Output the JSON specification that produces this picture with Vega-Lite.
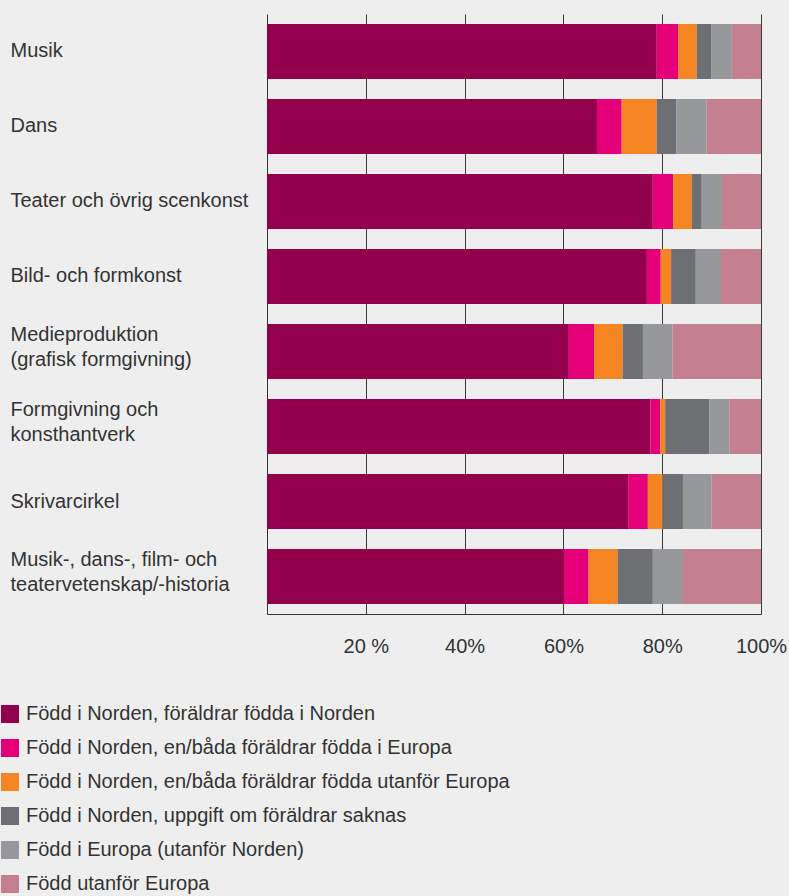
{
  "$schema": "https://vega.github.io/schema/vega-lite/v6.json",
  "autosize": {"type": "none"},
  "padding": {"left": 267, "top": 14, "right": 28, "bottom": 282},
  "width": 494,
  "height": 600,
  "background": "#eeeeee",
  "config": {
    "view": {"stroke": null},
    "font": "Liberation Sans",
    "text": {"font": "Liberation Sans"}
  },
  "data": {
    "values": [
      {"omrade": "Musik", "grupp": "Född i Norden, föräldrar födda i Norden", "nr": 1, "andel": 78.9},
      {"omrade": "Musik", "grupp": "Född i Norden, en/båda föräldrar födda i Europa", "nr": 2, "andel": 4.3},
      {"omrade": "Musik", "grupp": "Född i Norden, en/båda föräldrar födda utanför Europa", "nr": 3, "andel": 3.8},
      {"omrade": "Musik", "grupp": "Född i Norden, uppgift om föräldrar saknas", "nr": 4, "andel": 3.0},
      {"omrade": "Musik", "grupp": "Född i Europa (utanför Norden)", "nr": 5, "andel": 4.1},
      {"omrade": "Musik", "grupp": "Född utanför Europa", "nr": 6, "andel": 5.9},

      {"omrade": "Dans", "grupp": "Född i Norden, föräldrar födda i Norden", "nr": 1, "andel": 66.8},
      {"omrade": "Dans", "grupp": "Född i Norden, en/båda föräldrar födda i Europa", "nr": 2, "andel": 5.0},
      {"omrade": "Dans", "grupp": "Född i Norden, en/båda föräldrar födda utanför Europa", "nr": 3, "andel": 7.1},
      {"omrade": "Dans", "grupp": "Född i Norden, uppgift om föräldrar saknas", "nr": 4, "andel": 4.0},
      {"omrade": "Dans", "grupp": "Född i Europa (utanför Norden)", "nr": 5, "andel": 6.1},
      {"omrade": "Dans", "grupp": "Född utanför Europa", "nr": 6, "andel": 11.0},

      {"omrade": "Teater och övrig scenkonst", "grupp": "Född i Norden, föräldrar födda i Norden", "nr": 1, "andel": 78.1},
      {"omrade": "Teater och övrig scenkonst", "grupp": "Född i Norden, en/båda föräldrar födda i Europa", "nr": 2, "andel": 4.1},
      {"omrade": "Teater och övrig scenkonst", "grupp": "Född i Norden, en/båda föräldrar födda utanför Europa", "nr": 3, "andel": 3.8},
      {"omrade": "Teater och övrig scenkonst", "grupp": "Född i Norden, uppgift om föräldrar saknas", "nr": 4, "andel": 2.0},
      {"omrade": "Teater och övrig scenkonst", "grupp": "Född i Europa (utanför Norden)", "nr": 5, "andel": 4.1},
      {"omrade": "Teater och övrig scenkonst", "grupp": "Född utanför Europa", "nr": 6, "andel": 7.9},

      {"omrade": "Bild- och formkonst", "grupp": "Född i Norden, föräldrar födda i Norden", "nr": 1, "andel": 76.9},
      {"omrade": "Bild- och formkonst", "grupp": "Född i Norden, en/båda föräldrar födda i Europa", "nr": 2, "andel": 2.8},
      {"omrade": "Bild- och formkonst", "grupp": "Född i Norden, en/båda föräldrar födda utanför Europa", "nr": 3, "andel": 2.1},
      {"omrade": "Bild- och formkonst", "grupp": "Född i Norden, uppgift om föräldrar saknas", "nr": 4, "andel": 5.0},
      {"omrade": "Bild- och formkonst", "grupp": "Född i Europa (utanför Norden)", "nr": 5, "andel": 5.1},
      {"omrade": "Bild- och formkonst", "grupp": "Född utanför Europa", "nr": 6, "andel": 8.1},

      {"omrade": "Medieproduktion|(grafisk formgivning)", "grupp": "Född i Norden, föräldrar födda i Norden", "nr": 1, "andel": 61.1},
      {"omrade": "Medieproduktion|(grafisk formgivning)", "grupp": "Född i Norden, en/båda föräldrar födda i Europa", "nr": 2, "andel": 5.1},
      {"omrade": "Medieproduktion|(grafisk formgivning)", "grupp": "Född i Norden, en/båda föräldrar födda utanför Europa", "nr": 3, "andel": 5.8},
      {"omrade": "Medieproduktion|(grafisk formgivning)", "grupp": "Född i Norden, uppgift om föräldrar saknas", "nr": 4, "andel": 4.1},
      {"omrade": "Medieproduktion|(grafisk formgivning)", "grupp": "Född i Europa (utanför Norden)", "nr": 5, "andel": 6.0},
      {"omrade": "Medieproduktion|(grafisk formgivning)", "grupp": "Född utanför Europa", "nr": 6, "andel": 17.9},

      {"omrade": "Formgivning och|konsthantverk", "grupp": "Född i Norden, föräldrar födda i Norden", "nr": 1, "andel": 77.6},
      {"omrade": "Formgivning och|konsthantverk", "grupp": "Född i Norden, en/båda föräldrar födda i Europa", "nr": 2, "andel": 2.0},
      {"omrade": "Formgivning och|konsthantverk", "grupp": "Född i Norden, en/båda föräldrar födda utanför Europa", "nr": 3, "andel": 1.0},
      {"omrade": "Formgivning och|konsthantverk", "grupp": "Född i Norden, uppgift om föräldrar saknas", "nr": 4, "andel": 8.9},
      {"omrade": "Formgivning och|konsthantverk", "grupp": "Född i Europa (utanför Norden)", "nr": 5, "andel": 4.1},
      {"omrade": "Formgivning och|konsthantverk", "grupp": "Född utanför Europa", "nr": 6, "andel": 6.4},

      {"omrade": "Skrivarcirkel", "grupp": "Född i Norden, föräldrar födda i Norden", "nr": 1, "andel": 73.1},
      {"omrade": "Skrivarcirkel", "grupp": "Född i Norden, en/båda föräldrar födda i Europa", "nr": 2, "andel": 4.0},
      {"omrade": "Skrivarcirkel", "grupp": "Född i Norden, en/båda föräldrar födda utanför Europa", "nr": 3, "andel": 3.0},
      {"omrade": "Skrivarcirkel", "grupp": "Född i Norden, uppgift om föräldrar saknas", "nr": 4, "andel": 4.1},
      {"omrade": "Skrivarcirkel", "grupp": "Född i Europa (utanför Norden)", "nr": 5, "andel": 5.8},
      {"omrade": "Skrivarcirkel", "grupp": "Född utanför Europa", "nr": 6, "andel": 10.0},

      {"omrade": "Musik-, dans-, film- och|teatervetenskap/-historia", "grupp": "Född i Norden, föräldrar födda i Norden", "nr": 1, "andel": 60.1},
      {"omrade": "Musik-, dans-, film- och|teatervetenskap/-historia", "grupp": "Född i Norden, en/båda föräldrar födda i Europa", "nr": 2, "andel": 5.0},
      {"omrade": "Musik-, dans-, film- och|teatervetenskap/-historia", "grupp": "Född i Norden, en/båda föräldrar födda utanför Europa", "nr": 3, "andel": 5.9},
      {"omrade": "Musik-, dans-, film- och|teatervetenskap/-historia", "grupp": "Född i Norden, uppgift om föräldrar saknas", "nr": 4, "andel": 7.1},
      {"omrade": "Musik-, dans-, film- och|teatervetenskap/-historia", "grupp": "Född i Europa (utanför Norden)", "nr": 5, "andel": 6.1},
      {"omrade": "Musik-, dans-, film- och|teatervetenskap/-historia", "grupp": "Född utanför Europa", "nr": 6, "andel": 15.8}
    ]
  },
  "mark": {"type": "bar"},
  "encoding": {
    "y": {
      "field": "omrade",
      "type": "nominal",
      "sort": null,
      "scale": {"paddingInner": 0.2667, "paddingOuter": 0.1333},
      "axis": {
        "title": null,
        "ticks": false,
        "tickSize": 0,
        "grid": false,
        "domain": true,
        "domainColor": "#333333",
        "domainWidth": 1,
        "labelAlign": "left",
        "labelBaseline": "middle",
        "labelPadding": 257,
        "labelFontSize": 20,
        "labelColor": "#333333",
        "labelLineHeight": 25,
        "labelLimit": 300,
        "labelOffset": {"condition": {"test": "indexof(datum.value, '|') >= 0", "value": -17}, "value": 0},
        "labelExpr": "split(datum.label, '|')"
      }
    },
    "x": {
      "field": "andel",
      "type": "quantitative",
      "stack": "zero",
      "scale": {"domain": [0, 100], "nice": false},
      "axis": {
        "title": null,
        "values": [20, 40, 60, 80, 100],
        "ticks": false,
        "tickSize": 0,
        "grid": true,
        "gridColor": "#3a3a3a",
        "gridWidth": 1,
        "gridOpacity": 1,
        "domain": true,
        "domainColor": "#333333",
        "domainWidth": 1,
        "labelPadding": 22,
        "labelFontSize": 20,
        "labelColor": "#333333",
        "labelAlign": "center",
        "labelExpr": "datum.value == 20 ? '20 %' : datum.value + '%'"
      }
    },
    "order": {"field": "nr", "type": "quantitative", "sort": "ascending"},
    "color": {
      "field": "grupp",
      "type": "nominal",
      "sort": null,
      "scale": {
        "domain": [
          "Född i Norden, föräldrar födda i Norden",
          "Född i Norden, en/båda föräldrar födda i Europa",
          "Född i Norden, en/båda föräldrar födda utanför Europa",
          "Född i Norden, uppgift om föräldrar saknas",
          "Född i Europa (utanför Norden)",
          "Född utanför Europa"
        ],
        "range": ["#93004c", "#e5007a", "#f58423", "#6e6f73", "#97989c", "#c47f91"]
      },
      "legend": {
        "title": null,
        "orient": "none",
        "legendX": -267,
        "legendY": 690,
        "direction": "vertical",
        "padding": 0,
        "symbolType": "square",
        "symbolSize": 324,
        "symbolStrokeWidth": 0,
        "symbolOpacity": 1,
        "labelFontSize": 20,
        "labelColor": "#333333",
        "labelOffset": 6,
        "labelLimit": 600,
        "rowPadding": 14
      }
    }
  }
}
